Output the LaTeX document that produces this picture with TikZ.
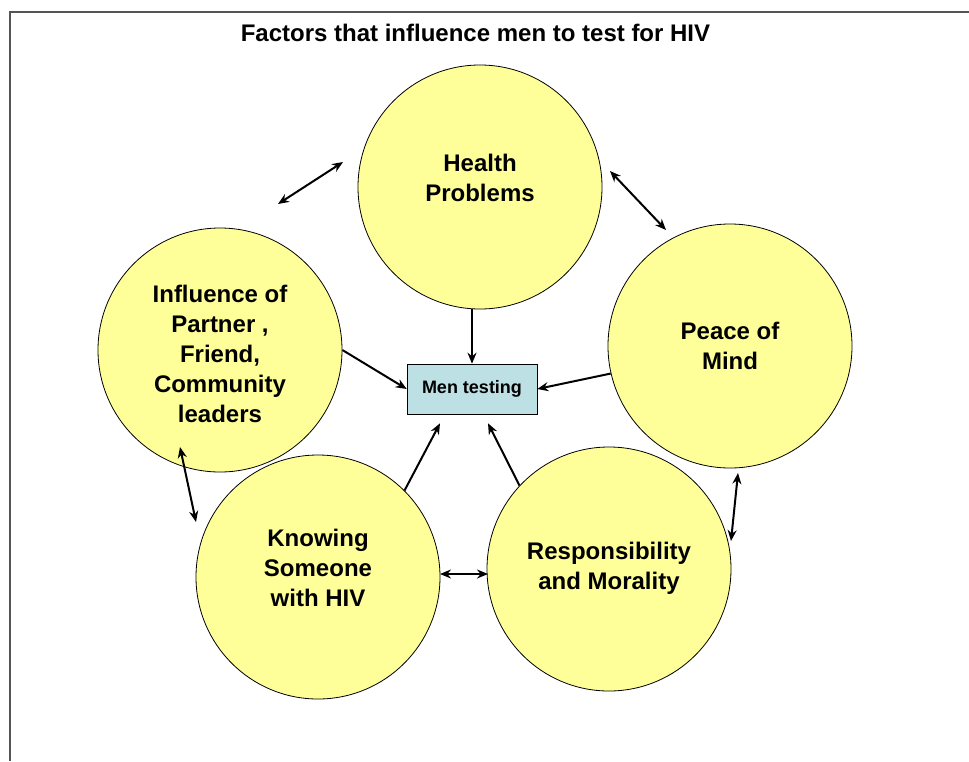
\documentclass[tikz,border=0pt]{standalone}
\usepackage{fontspec}
\setmainfont{Liberation Sans}
\usetikzlibrary{arrows.meta,calc}
\definecolor{cyel}{HTML}{FFFF99}
\definecolor{cbox}{HTML}{BDE0E4}
\definecolor{cframe}{HTML}{555555}
\begin{document}
\begin{tikzpicture}[x=1pt,y=-1pt,
 bubble/.style={circle,draw=black,line width=0.8pt,fill=cyel,minimum size=244pt,inner sep=0pt},
 btext/.style={align=center,font=\fontsize{24}{30}\selectfont\bfseries},
 arr/.style={-{Stealth[length=11pt,width=9pt]},line width=2pt},
 darr/.style={{Stealth[length=11pt,width=9pt]}-{Stealth[length=11pt,width=9pt]},line width=2pt}]
\useasboundingbox (0,0) rectangle (969,761);
\fill[white] (0,0) rectangle (969,761);
\draw[cframe,line width=1.5pt] (10,761) -- (10,12) -- (975,12);

\node[font=\fontsize{24}{28}\selectfont\bfseries] (title) at (475.5,33) {Factors that influence men to test for HIV};

\node[bubble,label={[btext,yshift=9pt]center:{Health\\Problems}}] (health) at (480,187) {};
\node[bubble,label={[btext,yshift=-4pt]center:{Influence of\\Partner ,\\Friend,\\Community\\leaders}}] (infl) at (220,350) {};
\node[bubble,label={[btext]center:{Peace of\\Mind}}] (peace) at (730,346) {};
\node[bubble,label={[btext,yshift=9pt]center:{Knowing\\Someone\\with HIV}}] (know) at (318,577) {};
\node[bubble,label={[btext,yshift=1pt]center:{Responsibility\\and Morality}}] (resp) at (609,569) {};

\node[draw=black,line width=0.6pt,fill=cbox,minimum width=130pt,minimum height=50pt,inner sep=0pt,
 font=\fontsize{18}{22}\selectfont\bfseries] (men) at (472,389) {Men testing};

% arrows into Men testing
\draw[arr] (health.south -| men.north) -- (men.north);
\draw[arr] (infl.east) -- (men.west);
\draw[arr] (peace.193) -- (men.east);
\coordinate (kn1) at ($(men.south)+(-32,9)$);
\coordinate (rs1) at ($(men.south)+(16,9)$);
\draw[arr] (know.45) -- (kn1);
\draw[arr] (resp.137) -- (rs1);

% double arrows between factors
\coordinate (d1a) at ($(infl)+(58,-146)$);
\coordinate (d1b) at ($(health)+(-137,-25)$);
\draw[darr] (d1a) -- (d1b);
\coordinate (d2a) at ($(health)+(130,-16)$);
\coordinate (d2b) at ($(peace)+(-64,-116)$);
\draw[darr] (d2a) -- (d2b);
\coordinate (d3a) at ($(infl)+(-40,97)$);
\coordinate (d3b) at ($(know)+(-122,-55)$);
\draw[darr] (d3a) -- (d3b);
\coordinate (d4a) at ($(know)+(122,-3)$);
\coordinate (d4b) at ($(resp)+(-121,5)$);
\draw[darr] (d4a) -- (d4b);
\coordinate (d5a) at ($(peace)+(8,127)$);
\coordinate (d5b) at ($(resp)+(122,-28)$);
\draw[darr] (d5a) -- (d5b);
\end{tikzpicture}
\end{document}
